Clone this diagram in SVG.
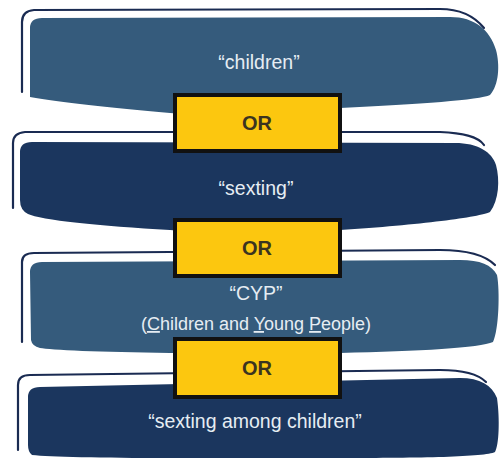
<svg xmlns="http://www.w3.org/2000/svg" width="500" height="468" viewBox="0 0 500 468">
<style>
.light{fill:#355b7c}
.dark{fill:#1b365e}
.outline{fill:none;stroke:#1a2b52;stroke-width:2.2;stroke-linecap:round}
.lbl{font-family:"Liberation Sans",Arial,sans-serif;font-size:19.5px;fill:#e6edf3;text-anchor:middle}
.sub{font-size:18px}
.box{fill:#fcc70f;stroke:#111111;stroke-width:4}
.or{font-family:"Liberation Sans",Arial,sans-serif;font-size:20px;font-weight:bold;fill:#3b3420;text-anchor:middle}
</style>
<rect width="500" height="468" fill="#ffffff"/>
<g id="band-children">
<path class="outline" d="M22,92 L22,22 Q22,11 34,10 L440,9 C460,9 475,17 484,28"/>
<path class="light" d="M30,28 Q30,18 42,18 L450,17 C475,17 490,30 496,50 C500,65 499,85 490,95 C480,100 420,104 340,108 C260,113 200,116 170,113 C110,108 60,102 30,97 Z"/>
<text class="lbl" x="259" y="69">“children”</text>
</g>
<g id="band-sexting">
<path class="outline" d="M13,208 L13,143 Q13,133 25,132 L440,132 C462,133 478,136 484,145"/>
<path class="dark" d="M20,152 Q20,142 32,142 L455,143 C478,143 492,152 496,165 C500,180 499,200 490,212 C480,217 420,225 340,230 C260,233 200,233 170,230 C100,226 40,220 28,214 Q20,210 20,200 Z"/>
<text class="lbl" x="256" y="195">“sexting”</text>
</g>
<g id="band-cyp">
<path class="outline" d="M22,342 L22,262 Q22,253 34,253 L440,250 C465,250 485,255 495,265"/>
<path class="light" d="M30,272 Q30,262 42,262 L460,260 C480,260 492,265 497,275 C500,290 499,330 493,342 C480,348 420,351 340,353 L170,353 C100,352 50,350 40,348 Q32,346 31,340 Z"/>
<text class="lbl" x="256" y="300">“CYP”</text>
<text class="lbl sub" x="256" y="330">(<tspan text-decoration="underline">C</tspan>hildren and <tspan text-decoration="underline">Y</tspan>oung <tspan text-decoration="underline">P</tspan>eople)</text>
</g>
<g id="band-sexting-among-children">
<path class="outline" d="M18,450 L18,385 Q18,375 30,375 L440,370 C462,370 478,374 486,382"/>
<path class="dark" d="M28,397 Q28,387 40,387 L460,378 C480,378 492,385 497,398 C500,420 499,445 495,452 C485,457 420,458 340,458 L170,458 C100,458 50,457 32,455 Q28,452 28,445 Z"/>
<text class="lbl" x="255" y="428">“sexting among children”</text>
</g>
<g id="or-1">
<rect class="box" x="175" y="95" width="165" height="56"/>
<text class="or" x="257" y="130">OR</text>
</g>
<g id="or-2">
<rect class="box" x="175" y="220" width="165" height="56"/>
<text class="or" x="257" y="255">OR</text>
</g>
<g id="or-3">
<rect class="box" x="175" y="339" width="165" height="58"/>
<text class="or" x="257" y="375">OR</text>
</g>
<g id="connectors"/>
</svg>
